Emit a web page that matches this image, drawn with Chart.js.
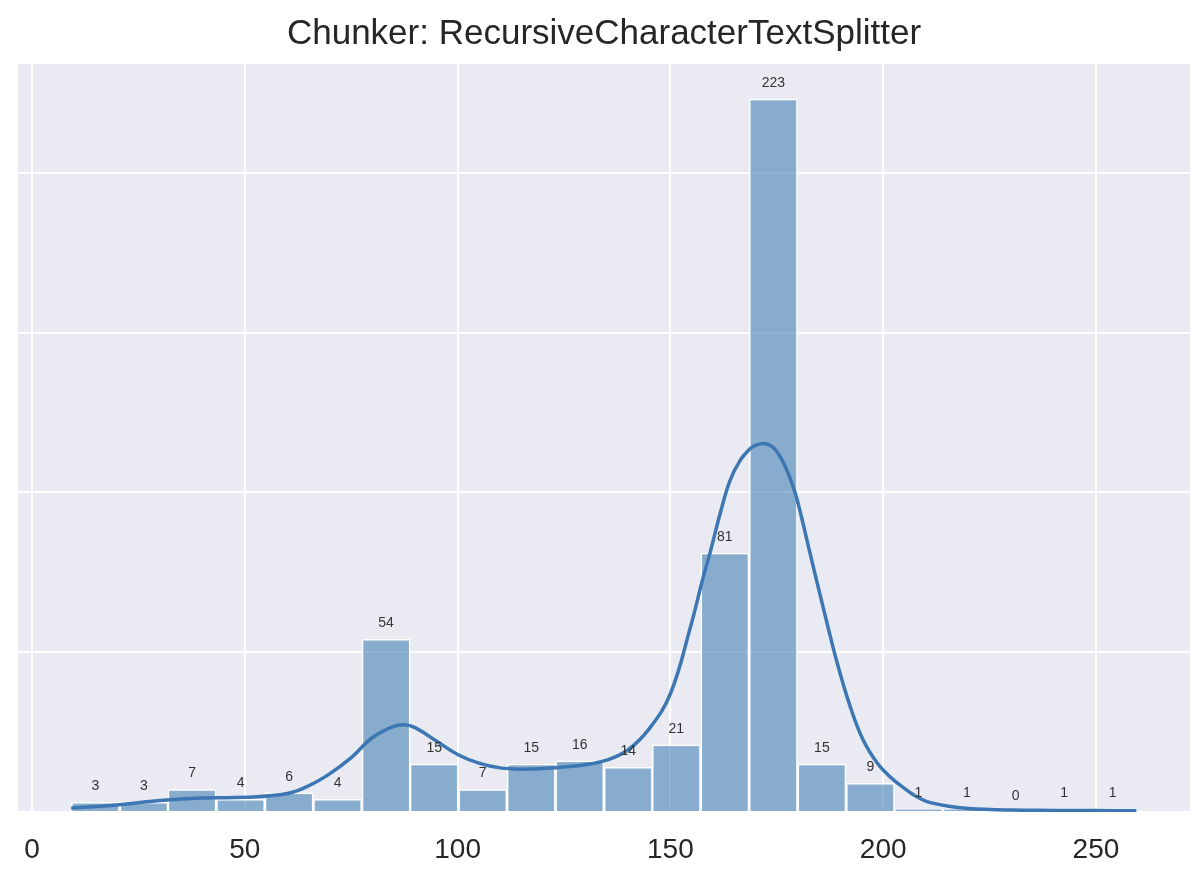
<!DOCTYPE html>
<html>
<head>
<meta charset="utf-8">
<script src="https://cdn.jsdelivr.net/npm/chart.js@4.4.1/dist/chart.umd.min.js"></script>
<style>
  html, body { margin: 0; padding: 0; background: #ffffff; }
  #wrap { width: 1200px; height: 869px; position: relative; }
</style>
</head>
<body>
<div id="wrap"><canvas id="c" width="1200" height="869"></canvas></div>
<script>
// ---- data ----
const titleText = "Chunker: RecursiveCharacterTextSplitter";
const binCenters = [14.9, 26.3, 37.6, 49.0, 60.4, 71.8, 83.2, 94.5, 105.9, 117.3, 128.7,
                    140.1, 151.4, 162.8, 174.2, 185.6, 197.0, 208.3, 219.7, 231.1, 242.5, 253.9];
const binCounts  = [3, 3, 7, 4, 6, 4, 54, 15, 7, 15, 16, 14, 21, 81, 223, 15, 9, 1, 1, 0, 1, 1];
const kdeX = [9.2, 20, 30, 40, 50, 60, 65, 70, 75, 80, 85, 87.5, 90, 95, 100, 105, 110, 115, 120,
              125, 130, 135, 140, 145, 150, 154.7, 157.7, 159.3, 161.7, 164, 166.4, 168.8, 170,
              171.3, 172.5, 174, 175.3, 176.8, 178.3, 179.8, 182.9, 185.9, 189.2, 192.3, 195.3,
              198.6, 201.6, 204, 207, 210, 215, 220, 230, 240, 250, 259.5];
const kdeY = [1.2, 2.2, 3.6, 4.4, 4.6, 5.8, 8.2, 12, 17, 23.3, 26.8, 27.3, 26.4, 22.2, 18, 15.3,
              13.8, 13.4, 13.6, 14.1, 14.8, 16.2, 19.4, 26, 37, 57.8, 73.4, 81, 93.4, 103.7, 110,
              113.7, 114.7, 115.2, 115.2, 114.2, 112.2, 108.6, 103.8, 97.6, 80.5, 64, 46.6, 32.8,
              22.5, 15.3, 11, 8.4, 5.5, 3.4, 1.9, 1.1, 0.6, 0.5, 0.45, 0.4];
const xTicks = [0, 50, 100, 150, 200, 250];
const yTicks = [0, 50, 100, 150, 200];

const barData = binCenters.map((x, i) => ({ x: x, y: binCounts[i] }));
const kdeData = kdeX.map((x, i) => ({ x: x, y: kdeY[i] }));

const bgPlugin = {
  id: 'bg',
  beforeDraw(chart) {
    const { ctx, chartArea: a } = chart;
    ctx.save();
    ctx.fillStyle = '#eaeaf2';
    ctx.fillRect(a.left, a.top, a.right - a.left, a.bottom - a.top);
    ctx.restore();
  }
};

const labelPlugin = {
  id: 'barLabels',
  afterDatasetsDraw(chart) {
    const { ctx, scales } = chart;
    ctx.save();
    ctx.font = '14px "Liberation Sans", Arial, sans-serif';
    ctx.fillStyle = '#333333';
    ctx.textAlign = 'center';
    ctx.textBaseline = 'bottom';
    binCenters.forEach((x, i) => {
      const px = scales.x.getPixelForValue(x);
      const py = scales.y.getPixelForValue(binCounts[i]);
      ctx.fillText(String(binCounts[i]), px, py - 9);
    });
    ctx.restore();
  }
};

new Chart(document.getElementById('c'), {
  data: {
    datasets: [
      {
        type: 'line',
        data: kdeData,
        borderColor: '#3c77b3',
        borderWidth: 3.5,
        pointRadius: 0,
        tension: 0.4,
        fill: false,
        order: 0
      },
      {
        type: 'bar',
        data: barData,
        backgroundColor: 'rgba(70,130,180,0.6)',
        borderColor: '#ffffff',
        borderWidth: 1.5,
        categoryPercentage: 1.0,
        barPercentage: 1.0,
        order: 1
      }
    ]
  },
  options: {
    responsive: false,
    animation: false,
    layout: { padding: { left: 18, right: 10, top: 0, bottom: 0 } },
    plugins: {
      legend: { display: false },
      tooltip: { enabled: false },
      title: {
        display: true,
        text: titleText,
        color: '#262626',
        font: { family: '"Liberation Sans", Arial, sans-serif', size: 35, weight: 'normal', lineHeight: 1.2 },
        padding: { top: 13, bottom: 9 }
      }
    },
    scales: {
      x: {
        type: 'linear',
        min: -3.3,
        max: 272.1,
        offset: false,
        afterBuildTicks: (s) => { s.ticks = xTicks.map(v => ({ value: v })); },
        afterFit: (s) => { s.height = 57; },
        grid: { color: '#ffffff', lineWidth: 2, drawTicks: false, offset: false },
        border: { display: false },
        ticks: {
          color: '#262626',
          padding: 21,
          font: { family: '"Liberation Sans", Arial, sans-serif', size: 28 },
          maxRotation: 0
        }
      },
      y: {
        type: 'linear',
        min: 0,
        max: 234,
        afterBuildTicks: (s) => { s.ticks = yTicks.map(v => ({ value: v })); },
        afterFit: (s) => { s.width = 0; },
        grid: { color: '#ffffff', lineWidth: 2, drawTicks: false },
        border: { display: false },
        ticks: { display: false }
      }
    }
  },
  plugins: [bgPlugin, labelPlugin]
});
</script>
</body>
</html>
